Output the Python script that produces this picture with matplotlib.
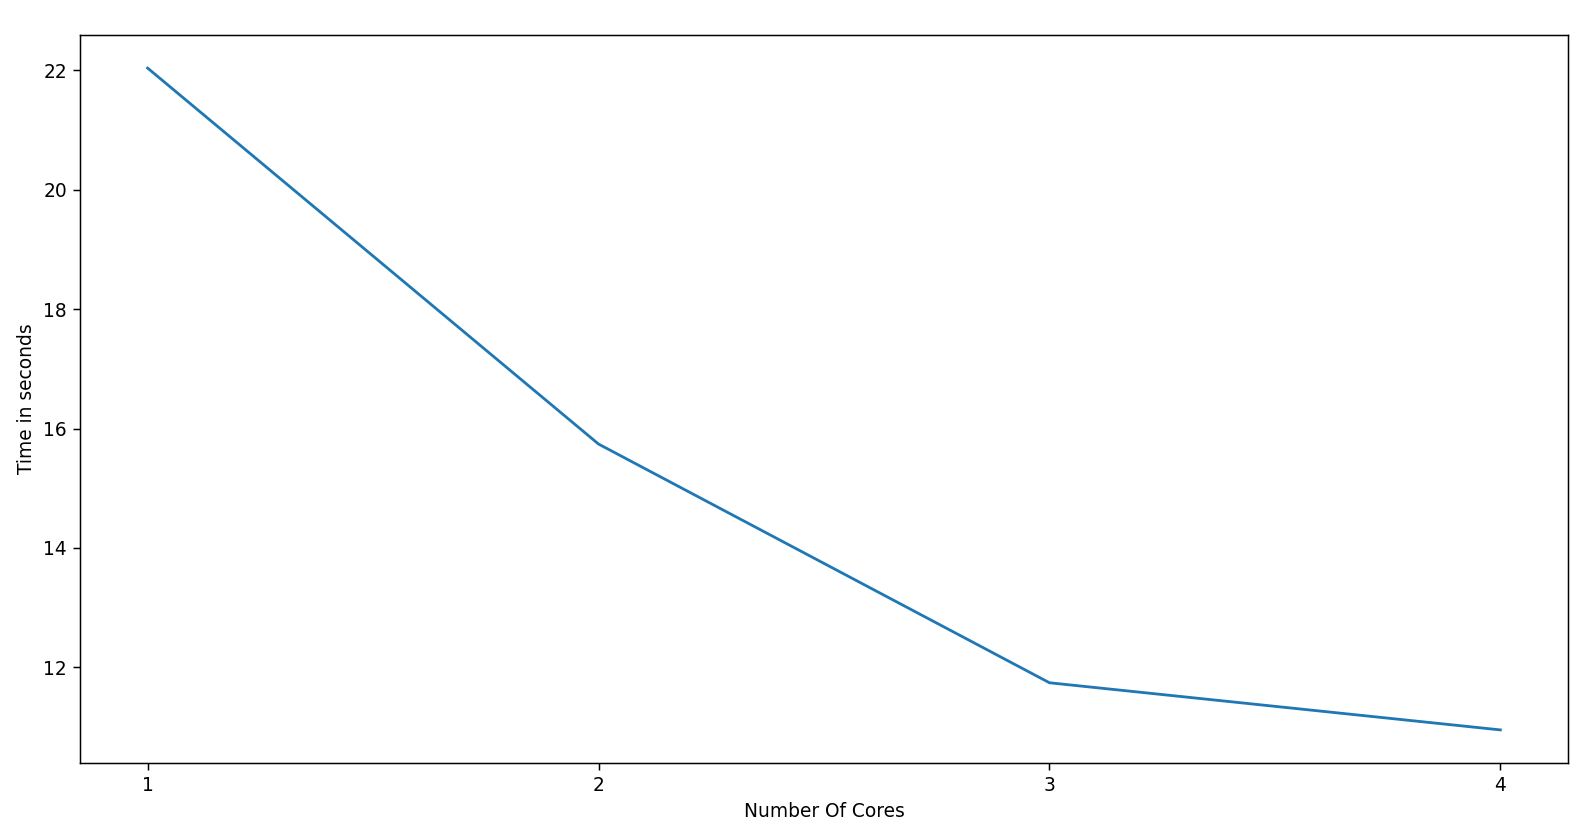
import matplotlib
matplotlib.use("Agg")
import matplotlib.pyplot as plt

cores = [1, 2, 3, 4]
times = [22.04, 15.74, 11.74, 10.95]

dpi = 134
fig = plt.figure(figsize=(1582 / dpi, 822 / dpi), dpi=dpi)
ax = fig.add_axes([80 / 1582, 1 - 763 / 822, 1488 / 1582, 728 / 822])
ax.plot(cores, times)
ax.set_xticks(cores)
ax.set_xlabel("Number Of Cores")
ax.set_ylabel("Time in seconds")
fig.savefig("out.png", dpi=dpi)
